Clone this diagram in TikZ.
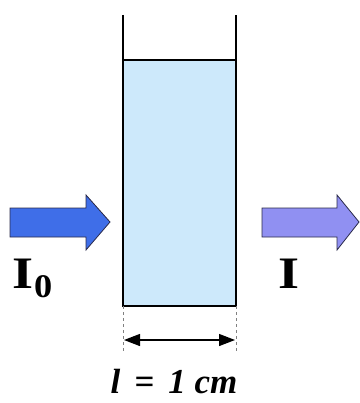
\documentclass[tikz,border=0pt]{standalone}
\usepackage{fontspec}
\setmainfont{Liberation Serif}
\usetikzlibrary{arrows.meta}
\definecolor{liquid}{HTML}{CDE9FB}
\definecolor{inblue}{HTML}{3F6EE8}
\definecolor{outblue}{HTML}{9090F2}
\definecolor{edge}{HTML}{2A2A4A}
\tikzset{
  wall/.style={line width=1.8pt, black},
  beam/.style={draw=edge, line width=0.8pt, line join=miter},
  guide/.style={gray, dashed, line width=1pt, dash pattern=on 3pt off 3pt},
  label/.style={inner sep=0pt, font=\bfseries},
}
\begin{document}
\begin{tikzpicture}[x=1pt,y=-1pt]
\useasboundingbox (0,0) rectangle (359,403);
% liquid
\fill[liquid] (123,60) rectangle (236,306);
\draw[line width=1.2pt] (123,60) -- (236,60);
% walls
\coordinate (tl) at (123,15);
\coordinate (tr) at (236,15);
\coordinate (bl) at (123,306);
\coordinate (br) at (236,306);
\draw[wall] (tl) -- (bl) -- (br) -- (tr);
% guides
\coordinate (gl) at (123,352);
\coordinate (gr) at (236,352);
\draw[guide] (bl) -- (gl);
\draw[guide] (br) -- (gr);
% dimension arrow
\coordinate (dl) at (124,340);
\coordinate (dr) at (235,340);
\draw[line width=1.3pt, {Triangle[length=16pt,width=12pt]}-{Triangle[length=16pt,width=12pt]}] (dl) -- (dr);
% incoming beam
\draw[beam, fill=inblue] (10,208) -- (86,208) -- (86,195) -- (110,222) -- (86,250) -- (86,237) -- (10,237) -- cycle;
% outgoing beam
\draw[beam, fill=outblue] (262,208) -- (337,208) -- (337,195) -- (359,222) -- (337,250) -- (337,237) -- (262,237) -- cycle;
% labels
\node[label, font=\bfseries\fontsize{45}{45}\selectfont, anchor=base west, xscale=1.2] (I0) at (12,288) {I};
\node[label, font=\bfseries\fontsize{33}{33}\selectfont, anchor=base west, xscale=1.1] (sub) at (34,297) {0};
\node[label, font=\bfseries\fontsize{45}{45}\selectfont, anchor=base west, xscale=1.2] (I) at (278,288) {I};
\node[label, font=\bfseries\itshape\fontsize{35}{35}\selectfont, anchor=base] (len) at (174,393) {l\hspace{0.4em}=\hspace{0.4em}1 cm};
\end{tikzpicture}
\end{document}
